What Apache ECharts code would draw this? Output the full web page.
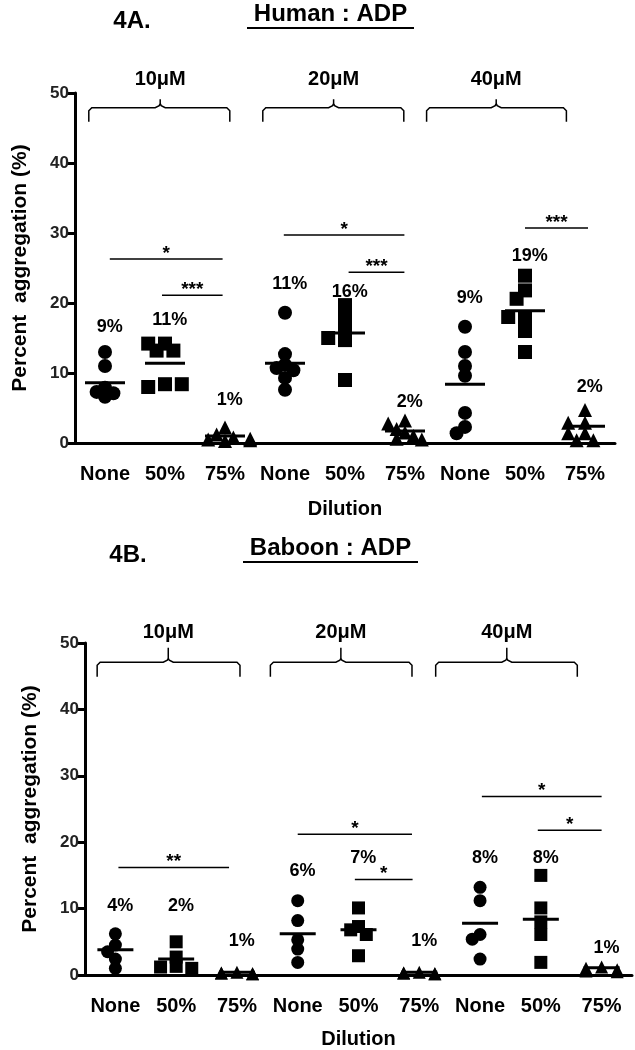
<!DOCTYPE html>
<html>
<head>
<meta charset="utf-8">
<script src="https://cdn.jsdelivr.net/npm/echarts@6/dist/echarts.min.js"></script>
<style>
  html, body { margin: 0; padding: 0; background: #fff; }
  #main { width: 635px; height: 1050px; }
</style>
</head>
<body>
<div id="main"></div>
<script>
var FONT = "'Liberation Sans', Arial, sans-serif";

// x categories (same for both panels)
var dilutions = ['None', '50%', '75%', 'None', '50%', '75%', 'None', '50%', '75%'];
var doses = ['10μM', '20μM', '40μM'];

// 4A Human : ADP  (percent aggregation per donor)
var humanNone = [[13.0, 11.0, 7.9, 7.3, 7.1, 6.6], [18.6, 12.7, 11.2, 10.7, 10.4, 9.3, 7.6], [16.6, 13.0, 11.0, 9.6, 4.3, 2.3, 1.4]];
var human50 = [[14.2, 13.2, 14.2, 13.2, 8.4, 8.0, 8.4], [19.7, 18.3, 16.6, 14.7, 15.0, 9.0], [23.9, 21.8, 20.6, 18.0, 18.0, 16.0, 13.0]];
var human75 = [[2.2, 1.2, 0.8, 0.5, 0.3, 0.4, 0.6], [3.2, 2.8, 2.0, 1.5, 1.0, 0.6, 0.5], [4.7, 2.9, 2.9, 1.4, 1.4, 0.4, 0.4]];
var humanMeans = [8.6, 11.4, 1.0, 11.4, 15.7, 1.7, 8.4, 18.9, 2.4];
var humanPct = ['9%', '11%', '1%', '11%', '16%', '2%', '9%', '19%', '2%'];
var humanPctY = [16.6, 17.6, 6.1, 22.7, 21.6, 5.9, 20.7, 26.7, 8.0];
// significance bars: [from, to, height, stars]
var humanSig = [[0.08, 1.96, 26.3, '*'], [0.95, 1.96, 21.1, '***'], [2.98, 4.99, 29.7, '*'], [4.06, 4.99, 24.4, '***'], [7.0, 8.05, 30.7, '***']];
// dose brackets: [left, right, centre]
var humanBrackets = [[-0.27, 2.08, 0.92], [2.63, 4.98, 3.81], [5.36, 7.69, 6.52]];

// 4B Baboon : ADP
var baboonNone = [[6.2, 4.5, 3.5, 2.4, 1.0], [11.2, 8.2, 5.3, 3.9, 1.9], [13.2, 11.2, 6.1, 5.4, 2.4]];
var baboon50 = [[5.0, 2.7, 1.3, 1.2, 1.0], [10.1, 7.3, 6.8, 6.1, 2.9], [15.0, 10.1, 8.0, 6.1, 1.9]];
var baboon75 = [[0.4, 0.3, 0.2, 0.3, 0.2], [0.4, 0.3, 0.2, 0.3, 0.2], [1.2, 1.0, 0.8, 0.6, 0.5]];
var baboonMeans = [3.8, 2.4, 0.4, 6.2, 6.8, 0.4, 7.8, 8.4, 1.1];
var baboonPct = ['4%', '2%', '1%', '6%', '7%', '1%', '8%', '8%', '1%'];
var baboonPctY = [10.4, 10.4, 5.1, 15.6, 17.6, 5.1, 17.6, 17.6, 4.1];
var baboonSig = [[0.05, 1.87, 16.2, '**'], [3.0, 4.88, 21.2, '*'], [3.94, 4.89, 14.4, '*'], [6.03, 8.0, 26.9, '*'], [6.95, 8.0, 21.8, '*']];
var baboonBrackets = [[-0.3, 2.05, 0.87], [2.55, 4.88, 3.71], [5.27, 7.6, 6.44]];

var panels = [
  { grid: { left: 75, top: 93, width: 540, height: 350 }, none: humanNone, p50: human50, p75: human75,
    means: humanMeans, pct: humanPct, pctY: humanPctY, sig: humanSig, brackets: humanBrackets,
    br: { top: 47.9, end: 45.9, tip: 49.1, text: 52.0 }, size: 14, meanW: 40, nameGap: 36 },
  { grid: { left: 85, top: 643, width: 547, height: 340 }, none: baboonNone, p50: baboon50, p75: baboon75,
    means: baboonMeans, pct: baboonPct, pctY: baboonPctY, sig: baboonSig, brackets: baboonBrackets,
    br: { top: 47.1, end: 44.9, tip: 49.3, text: 51.6 }, size: 13, meanW: 36, nameGap: 34 }
];

// spread points sideways where they would overlap (scatter dot plot look)
function swarm(vals, size, ppu) {
  var placed = [];
  var ks = [0, -1, 1, -2, 2, -3, 3];
  return vals.map(function (v, n) {
    var y = v * ppu;
    for (var i = 0; i < ks.length; i++) {
      var dx = ks[i] * size * 0.6;
      var hit = placed.some(function (p) {
        return Math.hypot(p[0] - dx, p[1] - y) < size * 0.65;
      });
      if (!hit) { placed.push([dx, y]); return dx; }
    }
    var fallback = ks[n % ks.length] * size * 0.6;
    placed.push([fallback, y]);
    return fallback;
  });
}

function dots(groups, offset, size, ppu) {
  var out = [];
  groups.forEach(function (vals, g) {
    var dx = swarm(vals, size, ppu);
    vals.forEach(function (v, i) {
      out.push({ value: [g * 3 + offset, v], symbolOffset: [dx[i], 0] });
    });
  });
  return out;
}

var xAxes = [], yAxes = [], grids = [], series = [];

panels.forEach(function (p, k) {
  grids.push(p.grid);
  var ppu = p.grid.height / 50;
  xAxes.push({
    type: 'category', gridIndex: k, data: dilutions,
    axisLine: { lineStyle: { color: '#000', width: 3 } },
    axisTick: { alignWithLabel: true, length: 7, lineStyle: { color: '#000', width: 3 } },
    axisLabel: { interval: 0, color: '#000', fontFamily: FONT, fontWeight: 'bold', fontSize: 20, margin: 21 },
    name: 'Dilution', nameLocation: 'middle', nameGap: p.nameGap + 20,
    nameTextStyle: { color: '#000', fontFamily: FONT, fontWeight: 'bold', fontSize: 20 }
  });
  xAxes.push({ type: 'value', gridIndex: k, min: -0.5, max: 8.5, show: false });
  yAxes.push({
    type: 'value', gridIndex: k, min: 0, max: 50, interval: 10,
    axisLine: { show: true, onZero: false, lineStyle: { color: '#000', width: 3 } },
    axisTick: { show: true, length: 8, lineStyle: { color: '#000', width: 3 } },
    splitLine: { show: false },
    axisLabel: { color: '#222', fontFamily: FONT, fontWeight: 'bold', fontSize: 17, margin: 6 },
    name: 'Percent  aggregation (%)', nameLocation: 'middle', nameRotate: 90, nameGap: 44,
    nameTextStyle: { color: '#000', fontFamily: FONT, fontWeight: 'bold', fontSize: 21 }
  });
  var xCat = k * 2, xVal = k * 2 + 1;
  [['circle', p.none, 0], ['rect', p.p50, 1], ['triangle', p.p75, 2]].forEach(function (s) {
    series.push({
      type: 'scatter', xAxisIndex: xCat, yAxisIndex: k, symbol: s[0], symbolSize: p.size,
      itemStyle: { color: '#000', opacity: 1 }, silent: true,
      data: dots(s[1], s[2], p.size, ppu)
    });
  });
  series.push({
    type: 'scatter', xAxisIndex: xCat, yAxisIndex: k, symbol: 'rect', symbolSize: [p.meanW, 3],
    itemStyle: { color: '#000', opacity: 1 }, z: 5,
    data: p.means.map(function (m, i) { return [i, m]; })
  });
  // percentage labels
  series.push({
    type: 'custom', xAxisIndex: xVal, yAxisIndex: k, clip: false,
    data: p.pctY.map(function (y, i) { return [i + 0.08, y]; }),
    renderItem: function (params, api) {
      var pt = api.coord([api.value(0), api.value(1)]);
      return { type: 'text', x: pt[0], y: pt[1], style: {
        text: p.pct[params.dataIndex], fill: '#000', font: 'bold 18px ' + FONT,
        align: 'center', verticalAlign: 'middle', textAlign: 'center', textVerticalAlign: 'middle' } };
    }
  });
  // significance bars
  series.push({
    type: 'custom', xAxisIndex: xVal, yAxisIndex: k, clip: false,
    data: p.sig.map(function (s) { return [s[0], s[1], s[2]]; }),
    renderItem: function (params, api) {
      var a = api.coord([api.value(0), api.value(2)]);
      var b = api.coord([api.value(1), api.value(2)]);
      return { type: 'group', children: [
        { type: 'line', shape: { x1: a[0], y1: a[1], x2: b[0], y2: b[1] }, style: { stroke: '#000', lineWidth: 1.5 } },
        { type: 'text', x: (a[0] + b[0]) / 2, y: a[1] + 4, style: {
          text: p.sig[params.dataIndex][3], fill: '#000', font: 'bold 19px ' + FONT,
          align: 'center', verticalAlign: 'bottom', textAlign: 'center', textVerticalAlign: 'bottom' } }
      ] };
    }
  });
  // dose brackets
  series.push({
    type: 'custom', xAxisIndex: xVal, yAxisIndex: k, clip: false,
    data: p.brackets,
    renderItem: function (params, api) {
      var l = api.coord([api.value(0), p.br.top]);
      var r = api.coord([api.value(1), p.br.top]);
      var c = api.coord([api.value(2), p.br.top]);
      var end = api.coord([0, p.br.end])[1];
      var tip = api.coord([0, p.br.tip])[1];
      var t = api.coord([api.value(2), p.br.text]);
      var y = l[1];
      var pts = [[l[0], end], [l[0], y + 3], [l[0] + 3, y], [c[0] - 5, y], [c[0] - 1, y - 2], [c[0], y - 4], [c[0], tip],
        [c[0], y - 4], [c[0] + 1, y - 2], [c[0] + 5, y], [r[0] - 3, y], [r[0], y + 3], [r[0], end]];
      return { type: 'group', children: [
        { type: 'polyline', shape: { points: pts }, style: { stroke: '#000', lineWidth: 1.5, fill: null } },
        { type: 'text', x: t[0], y: t[1], style: {
          text: doses[params.dataIndex], fill: '#000', font: 'bold 20px ' + FONT,
          align: 'center', verticalAlign: 'middle', textAlign: 'center', textVerticalAlign: 'middle' } }
      ] };
    }
  });
});

function title(x, y, label, heading, ux1, ux2) {
  var ts = { fill: '#000', font: 'bold 24px ' + FONT, align: 'center', verticalAlign: 'middle',
    textAlign: 'center', textVerticalAlign: 'middle' };
  return [
    { type: 'text', x: x, y: y + 7, style: Object.assign({ text: label }, ts) },
    { type: 'text', x: (ux1 + ux2) / 2, y: y, style: Object.assign({ text: heading }, ts) },
    { type: 'line', shape: { x1: ux1, y1: y + 14, x2: ux2, y2: y + 14 }, style: { stroke: '#000', lineWidth: 2 } }
  ];
}

var chart = echarts.init(document.getElementById('main'), null, { renderer: 'canvas' });
chart.setOption({
  backgroundColor: '#fff',
  animation: false,
  grid: grids,
  xAxis: xAxes,
  yAxis: yAxes,
  series: series,
  graphic: title(132, 14, '4A.', 'Human : ADP', 247, 414).concat(title(128, 548, '4B.', 'Baboon : ADP', 243, 418))
});
</script>
</body>
</html>
